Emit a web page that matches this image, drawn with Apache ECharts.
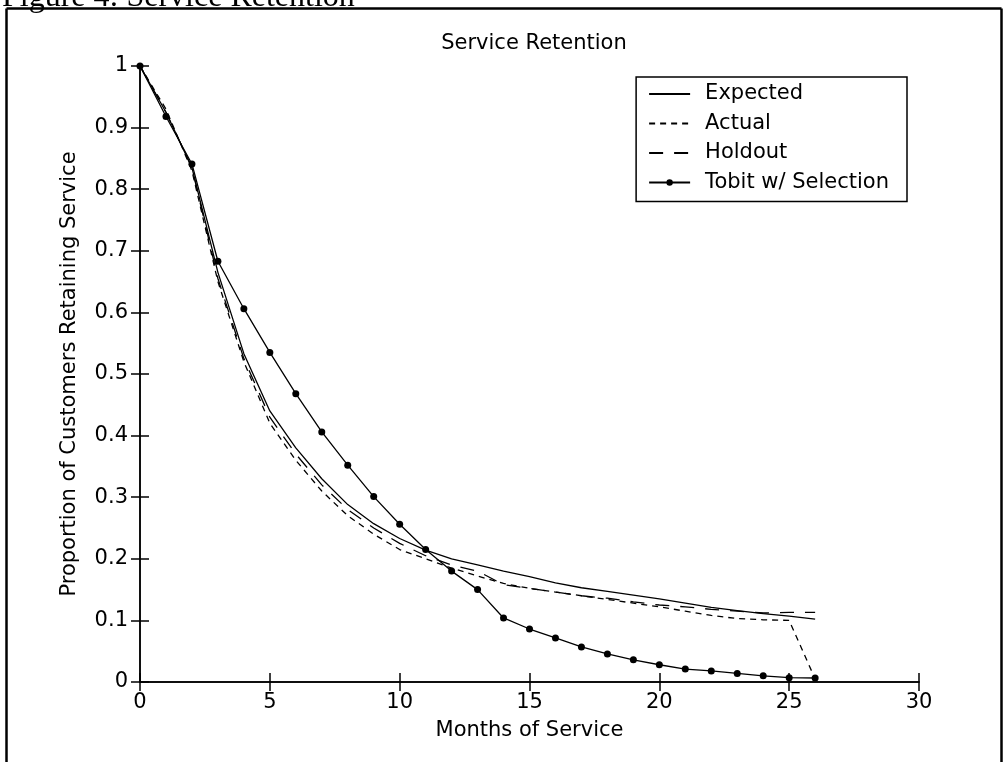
<!DOCTYPE html>
<html>
<head>
<meta charset="utf-8">
<script src="https://cdn.jsdelivr.net/npm/echarts@6/dist/echarts.min.js"></script>
<style>
  html, body { margin: 0; padding: 0; background: #fff; }
  #chart { width: 1003px; height: 762px; }
</style>
</head>
<body>
<div id="chart"></div>
<script>
// ---- data ----
const months = [0,1,2,3,4,5,6,7,8,9,10,11,12,13,14,15,16,17,18,19,20,21,22,23,24,25,26];
const expected = [1.000,0.925,0.835,0.665,0.533,0.440,0.380,0.330,0.288,0.257,0.233,0.214,0.200,0.190,0.180,0.171,0.161,0.153,0.147,0.141,0.135,0.128,0.121,0.116,0.111,0.107,0.102];
const actual   = [1.000,0.930,0.830,0.650,0.520,0.420,0.360,0.310,0.270,0.240,0.215,0.200,0.185,0.172,0.160,0.152,0.146,0.140,0.134,0.128,0.122,0.115,0.108,0.103,0.101,0.100,0.005];
const holdout  = [1.000,0.925,0.835,0.655,0.525,0.430,0.370,0.320,0.280,0.250,0.225,0.205,0.190,0.180,0.158,0.152,0.146,0.140,0.136,0.130,0.125,0.122,0.118,0.115,0.112,0.113,0.113];
const tobit    = [1.000,0.918,0.841,0.683,0.606,0.535,0.468,0.406,0.352,0.301,0.256,0.215,0.180,0.150,0.104,0.086,0.0715,0.057,0.0455,0.036,0.028,0.021,0.018,0.014,0.010,0.007,0.0065];
const seriesNames = ['Expected','Actual','Holdout','Tobit w/ Selection'];
const titleText = 'Service Retention';
const xName = 'Months of Service';
const yName = 'Proportion of Customers Retaining Service';
const captionText = 'Figure 4: Service Retention';

const pairs = arr => months.map((m, i) => [m, arr[i]]);

const FONT = '"DejaVu Sans", Verdana, sans-serif';
const FS = 21;
const axisCommon = {
  axisLine: { show: true, lineStyle: { color: '#000', width: 1.5 } },
  axisTick: { show: true, inside: true, length: 9, lineStyle: { color: '#000', width: 1.5 } },
  splitLine: { show: false }
};
const noSymbol = { color: 'rgba(0,0,0,0)', borderWidth: 0, opacity: 0 };

const chart = echarts.init(document.getElementById('chart'), null, { renderer: 'canvas' });
chart.setOption({
  animation: false,
  backgroundColor: '#fff',
  title: {
    text: titleText, left: 529, textAlign: 'center', top: 28,
    textStyle: { fontFamily: FONT, fontSize: FS, fontWeight: 'normal', color: '#000' }
  },
  grid: { left: 140, right: 84, top: 66, bottom: 80 },
  legend: {
    orient: 'vertical', right: 96, top: 77,
    data: [
      { name: seriesNames[0], itemStyle: noSymbol },
      { name: seriesNames[1], itemStyle: noSymbol },
      { name: seriesNames[2], itemStyle: noSymbol },
      { name: seriesNames[3] }
    ],
    backgroundColor: '#fff',
    borderColor: '#000', borderWidth: 1.5, borderRadius: 0,
    padding: [6, 18, 8, 12],
    itemWidth: 41, itemHeight: 8, itemGap: 7.5,
    textStyle: { fontFamily: FONT, fontSize: FS, color: '#000', lineHeight: 22, padding: [0, 0, 0, 10] }
  },
  xAxis: [
    Object.assign({
      type: 'value', min: 0, max: 30, interval: 5, position: 'bottom',
      name: xName, nameLocation: 'middle', nameGap: 38,
      nameTextStyle: { fontFamily: FONT, fontSize: FS, color: '#000' },
      axisLabel: { fontFamily: FONT, fontSize: FS, color: '#000', margin: 10 }
    }, axisCommon),
    Object.assign({
      type: 'value', min: 0, max: 30, interval: 5, position: 'top',
      axisLabel: { show: false }
    }, axisCommon)
  ],
  yAxis: [
    Object.assign({
      type: 'value', min: 0, max: 1, interval: 0.1, position: 'left',
      name: yName, nameLocation: 'middle', nameGap: 60,
      nameTextStyle: { fontFamily: FONT, fontSize: FS, color: '#000' },
      axisLabel: { fontFamily: FONT, fontSize: FS, color: '#000', margin: 12,
        formatter: v => String(Math.round(v * 10) / 10) }
    }, axisCommon),
    Object.assign({
      type: 'value', min: 0, max: 1, interval: 0.1, position: 'right',
      axisLabel: { show: false }
    }, axisCommon)
  ],
  series: [
    { name: seriesNames[0], type: 'line', data: pairs(expected), symbol: 'none',
      lineStyle: { color: '#000', width: 1.3, type: 'solid' }, itemStyle: { color: '#000' } },
    { name: seriesNames[1], type: 'line', data: pairs(actual), symbol: 'none',
      lineStyle: { color: '#000', width: 1.3, type: [6, 5] }, itemStyle: { color: '#000' } },
    { name: seriesNames[2], type: 'line', data: pairs(holdout), symbol: 'none',
      lineStyle: { color: '#000', width: 1.3, type: [14, 11] }, itemStyle: { color: '#000' } },
    { name: seriesNames[3], type: 'line', data: pairs(tobit), symbol: 'circle', symbolSize: 7,
      showSymbol: true,
      lineStyle: { color: '#000', width: 1.3 }, itemStyle: { color: '#000' } }
  ],
  graphic: [
    { type: 'text', left: 2, top: -18, z: 1,
      style: { text: captionText, font: '32px "Liberation Serif", "Times New Roman", serif', fill: '#000' } },
    { type: 'line', z: 3, shape: { x1: 6.5, y1: 8.5, x2: 1001.5, y2: 8.5 }, style: { stroke: '#000', lineWidth: 2.5 } },
    { type: 'line', z: 3, shape: { x1: 6.5, y1: 8.5, x2: 6.5, y2: 762 }, style: { stroke: '#000', lineWidth: 2.5 } },
    { type: 'line', z: 3, shape: { x1: 1001.5, y1: 8.5, x2: 1001.5, y2: 762 }, style: { stroke: '#000', lineWidth: 2.5 } }
  ]
});
</script>
</body>
</html>
